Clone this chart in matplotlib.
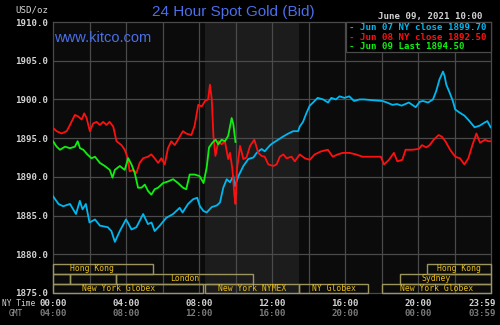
import matplotlib
matplotlib.use("Agg")
import matplotlib.pyplot as plt
from matplotlib.patches import Rectangle
from matplotlib.transforms import blended_transform_factory

# ---------------- data ----------------
jun07_hours = [
    0, 0.3, 0.56, 0.93, 1.26, 1.47, 1.62, 1.8, 2.0, 2.3,
    2.57, 3.0, 3.2, 3.39, 3.66, 4.0, 4.1, 4.3, 4.57, 4.94,
    5.2, 5.4, 5.57, 5.85, 6.2, 6.58, 6.94, 7.1, 7.4, 7.67,
    7.9, 8.05, 8.24, 8.42, 8.7, 8.97, 9.15, 9.33, 9.52, 9.7,
    9.88, 9.97, 10.16, 10.43, 10.7, 10.98, 11.16, 11.43, 11.6, 11.9,
    12.07, 12.34, 12.6, 12.9, 13.16, 13.43, 13.52, 13.7, 13.88, 14.07,
    14.25, 14.5, 14.8, 15.07, 15.25, 15.5, 15.7, 15.97, 16.23, 16.5,
    16.8, 17.05, 17.5, 18.05, 18.3, 18.6, 18.85, 19.1, 19.5, 19.87,
    20.1, 20.27, 20.55, 20.82, 21.0, 21.18, 21.37, 21.46, 21.55, 21.73,
    21.91, 22.04, 22.28, 22.55, 22.82, 23.1, 23.37, 23.64, 23.8, 23.98,
]
jun07_price = [
    1887.5, 1886.5, 1886.2, 1886.5, 1885.2, 1886.9, 1885.8, 1886.5, 1884.1, 1884.5,
    1883.7, 1883.5, 1883.0, 1881.6, 1883.0, 1884.5, 1884.1, 1883.2, 1883.5, 1885.2,
    1883.9, 1884.1, 1883.0, 1883.7, 1884.7, 1885.2, 1886.0, 1885.4, 1886.5, 1887.1,
    1887.3, 1886.2, 1885.6, 1885.4, 1886.1, 1886.3, 1886.7, 1888.6, 1889.7, 1889.3,
    1890.1, 1888.8, 1890.1, 1891.4, 1892.3, 1892.5, 1893.1, 1893.6, 1893.3, 1894.1,
    1894.4, 1894.8, 1895.2, 1895.6, 1895.9, 1895.9, 1896.5, 1897.1, 1898.2, 1899.2,
    1899.6, 1900.2, 1900.0, 1899.6, 1900.2, 1900.0, 1900.4, 1900.2, 1900.4, 1899.8,
    1900.0, 1900.0, 1899.9, 1899.8, 1899.6, 1899.3, 1899.4, 1899.2, 1899.6, 1899.0,
    1899.7, 1899.8, 1899.6, 1900.0, 1901.1, 1902.6, 1903.6, 1903.0, 1901.9, 1900.9,
    1899.8, 1898.7, 1898.3, 1897.9, 1897.2, 1896.4, 1896.6, 1897.0, 1897.2, 1896.4,
]

jun08_hours = [
    0, 0.2, 0.47, 0.75, 0.93, 1.2, 1.38, 1.57, 1.71, 1.84,
    2.02, 2.2, 2.39, 2.57, 2.75, 2.93, 3.1, 3.3, 3.48, 3.75,
    3.93, 4.1, 4.2, 4.39, 4.57, 4.75, 4.94, 5.2, 5.39, 5.57,
    5.76, 5.94, 6.12, 6.3, 6.48, 6.67, 6.85, 7.12, 7.3, 7.58,
    7.76, 7.96, 8.15, 8.33, 8.5, 8.6, 8.7, 8.79, 8.9, 9.06,
    9.24, 9.42, 9.6, 9.7, 9.83, 9.94, 10.0, 10.08, 10.25, 10.43,
    10.6, 10.8, 11.03, 11.25, 11.43, 11.6, 11.8, 12.07, 12.25, 12.43,
    12.62, 12.8, 13.07, 13.25, 13.52, 13.8, 14.07, 14.34, 14.7, 15.06,
    15.33, 15.6, 15.88, 16.24, 16.6, 16.96, 17.5, 17.96, 18.14, 18.41,
    18.68, 18.87, 19.14, 19.32, 19.68, 20.04, 20.22, 20.45, 20.64, 20.86,
    21.13, 21.3, 21.5, 21.76, 22.04, 22.3, 22.54, 22.76, 22.98, 23.2,
    23.4, 23.67, 23.85, 23.98,
]
jun08_price = [
    1896.3, 1895.9, 1895.6, 1895.9, 1896.7, 1898.0, 1897.8, 1897.4, 1898.2, 1897.6,
    1895.9, 1896.9, 1897.1, 1896.7, 1897.1, 1896.7, 1897.1, 1896.5, 1894.6, 1894.1,
    1893.5, 1892.4, 1890.7, 1890.9, 1890.5, 1891.8, 1892.4, 1892.6, 1892.9, 1892.4,
    1891.8, 1892.4, 1891.6, 1893.7, 1894.6, 1894.1, 1894.8, 1895.9, 1895.6, 1895.4,
    1896.6, 1899.3, 1899.1, 1899.8, 1900.0, 1901.9, 1900.0, 1895.3, 1892.7, 1894.6,
    1894.2, 1894.6, 1892.3, 1893.1, 1891.0, 1887.6, 1886.5, 1891.0, 1894.0, 1892.3,
    1892.5, 1894.0, 1894.8, 1893.1, 1892.7, 1892.6, 1891.6, 1891.4, 1891.6, 1892.6,
    1892.9, 1892.4, 1892.6, 1892.0, 1892.9, 1892.4, 1892.2, 1892.9, 1893.3, 1893.5,
    1892.6, 1892.9, 1893.1, 1893.1, 1892.9, 1892.6, 1892.6, 1892.6, 1891.6, 1892.2,
    1893.1, 1892.0, 1892.2, 1893.5, 1893.5, 1893.6, 1894.1, 1893.8, 1894.1, 1894.8,
    1895.4, 1895.2, 1894.6, 1893.5, 1892.6, 1892.4, 1891.6, 1892.4, 1894.1, 1895.6,
    1894.4, 1894.8, 1894.6, 1894.6,
]

jun09_hours = [
    0, 0.2, 0.38, 0.66, 0.93, 1.2, 1.35, 1.48, 1.66, 1.88,
    2.11, 2.3, 2.57, 2.84, 3.11, 3.26, 3.39, 3.66, 3.93, 4.12,
    4.3, 4.48, 4.66, 4.85, 5.03, 5.2, 5.39, 5.57, 5.76, 6.03,
    6.3, 6.58, 6.85, 7.12, 7.3, 7.49, 7.76, 8.03, 8.25, 8.42,
    8.55, 8.73, 8.91, 9.06, 9.24, 9.42, 9.6, 9.79, 9.88, 10.0,
]
jun09_price = [
    1894.6, 1893.9, 1893.5, 1893.9, 1893.7, 1893.9, 1894.6, 1893.7, 1893.5, 1892.9,
    1892.4, 1892.6, 1891.8, 1891.4, 1890.9, 1889.9, 1890.9, 1891.4, 1890.9, 1892.4,
    1891.6, 1890.5, 1888.6, 1888.6, 1889.0, 1888.2, 1887.7, 1888.4, 1888.6, 1889.2,
    1889.4, 1889.7, 1889.2, 1888.6, 1888.4, 1890.3, 1890.3, 1890.1, 1889.2, 1891.2,
    1893.8, 1894.4, 1894.8, 1894.2, 1894.8, 1894.6, 1895.3, 1897.6, 1896.8, 1894.5,
]

legend_labels = ["Jun 07 NY close 1899.70", "Jun 08 NY close 1892.50", "Jun 09 Last 1894.50"]

y_ticks = [1875, 1880, 1885, 1890, 1895, 1900, 1905, 1910]
x_tick_hours = [0, 4, 8, 12, 16, 20, 23.983]
ny_labels = ["00:00", "04:00", "08:00", "12:00", "16:00", "20:00", "23:59"]
gmt_labels = ["04:00", "08:00", "12:00", "16:00", "20:00", "00:00", "03:59"]

comex_open, comex_close = 8 + 20 / 60, 13.5

session_names = ["Hong Kong", "", "", "London", "Sydney", "Hong Kong",
                 "New York Globex", "New York NYMEX", "NY Globex", "New York Globex"]
session_rows = [0, 1, 1, 1, 1, 0, 2, 2, 2, 2]
session_start = [0.0, 0.0, 0.93, 3.45, 19.0, 20.5, 0.0, 8.33, 13.5, 18.0]
session_end = [5.48, 0.93, 3.45, 10.96, 24.0, 24.0, 8.2, 13.5, 17.25, 24.0]

# ---------------- style / layout ----------------
W, H = 500, 325
BG = "#000000"
PLOT_BG = "#0b0b0b"
SHADE = "#1c1c1c"
GRID = "#4a4a4a"
TXT = "#d2d2d2"
GMT_C = "#7a7a7a"
BLUE = "#4a6fe8"
CYAN = "#00b8f0"
RED = "#ff1010"
GREEN = "#10f010"
SES_EDGE = "#9c9560"
SES_TXT = "#e6bc1c"
MONO = "DejaVu Sans Mono"
FS = 6.6
row_bounds = [(1877.45, 1878.75), (1876.2, 1877.45), (1875.0, 1876.2)]
label_shift = {0: -0.6, 6: -0.5, 4: -0.5}


def fx(px):
    return px / W


def fy(py):
    return 1 - py / H


fig = plt.figure(figsize=(W / 100, H / 100), dpi=100, facecolor=BG)
ax = fig.add_axes([fx(53), fy(293), fx(491) - fx(53), fy(22) - fy(293)])
ax.set_facecolor(PLOT_BG)
ax.set_xlim(0, 24)
ax.set_ylim(1875, 1910)

ax.axvspan(comex_open, comex_close, color=SHADE, zorder=0, lw=0)
for h in range(2, 24, 2):
    ax.axvline(h, color=GRID, lw=0.9, zorder=1)
for y in y_ticks[1:-1]:
    ax.axhline(y, color=GRID, lw=0.9, zorder=1)
for s in ax.spines.values():
    s.set_color(GRID)
    s.set_linewidth(0.9)

ax.set_yticks(y_ticks)
ax.set_yticklabels([f"{v:.1f}" for v in y_ticks], family=MONO, weight="bold")
ax.tick_params(axis="y", length=0, pad=3.2, labelcolor=TXT, labelsize=FS)
ax.set_xticks([])

# series
ax.plot(jun07_hours, jun07_price, color=CYAN, lw=1.3, zorder=3)
ax.plot(jun08_hours, jun08_price, color=RED, lw=1.3, zorder=4)
ax.plot(jun09_hours, jun09_price, color=GREEN, lw=1.3, zorder=5)

# sessions
for i, name in enumerate(session_names):
    y0, y1 = row_bounds[session_rows[i]]
    ax.add_patch(Rectangle((session_start[i], y0), session_end[i] - session_start[i], y1 - y0,
                           fill=False, edgecolor=SES_EDGE, lw=1.0, zorder=6, clip_on=False))
    if name:
        cx = (session_start[i] + session_end[i]) / 2 + label_shift.get(i, 0)
        ax.text(cx, (y0 + y1) / 2, name, color=SES_TXT, family=MONO, fontsize=5.9,
                ha="center", va="center", zorder=7)

# x labels (two rows)
tr = blended_transform_factory(ax.transData, fig.transFigure)
n = len(x_tick_hours)
for k, (h, a, b) in enumerate(zip(x_tick_hours, ny_labels, gmt_labels)):
    if k == n - 1:
        fig.text(fx(496), fy(303.5), a, ha="right", va="center", color=TXT,
                 family=MONO, weight="bold", fontsize=FS)
        fig.text(fx(496), fy(314), b, ha="right", va="center", color=GMT_C,
                 family=MONO, weight="bold", fontsize=FS)
        continue
    fig.text(h, fy(303.5), a, transform=tr, ha="center", va="center", color=TXT,
             family=MONO, weight="bold", fontsize=FS)
    fig.text(h, fy(314), b, transform=tr, ha="center", va="center", color=GMT_C,
             family=MONO, weight="bold", fontsize=FS)
fig.text(fx(2), fy(304), "NY Time", ha="left", va="center", color=TXT, family=MONO,
         fontsize=5.7)
fig.text(fx(23), fy(313.5), "GMT", ha="right", va="center", color="#9a9a9a", family=MONO,
         fontsize=5.7)

# header texts
fig.text(fx(48), fy(10), "USD/oz", ha="right", va="center", color=TXT, family=MONO,
         fontsize=FS)
fig.text(fx(233), fy(12), "24 Hour Spot Gold (Bid)", ha="center", va="center", color=BLUE,
         family="Liberation Sans", fontsize=11)
fig.text(fx(482), fy(16), "June 09, 2021 10:00", ha="right", va="center", color=TXT,
         family=MONO, weight="bold", fontsize=FS)
fig.text(fx(54), fy(38), "www.kitco.com", ha="left", va="center", color=BLUE,
         family="Liberation Sans", fontsize=10.5, zorder=10)

# legend box
fig.patches.append(Rectangle((fx(346), fy(52)), fx(491) - fx(346), fy(22) - fy(52),
                             transform=fig.transFigure, facecolor="#000000",
                             edgecolor=GRID, lw=0.9, zorder=20))
for k, (lab, col) in enumerate(zip(legend_labels, [CYAN, RED, GREEN])):
    fig.text(fx(349), fy(27.5 + 9.5 * k), "- " + lab, ha="left", va="center", color=col,
             family=MONO, weight="bold", fontsize=FS, zorder=21)

fig.savefig("out.png", dpi=100, facecolor=BG)
